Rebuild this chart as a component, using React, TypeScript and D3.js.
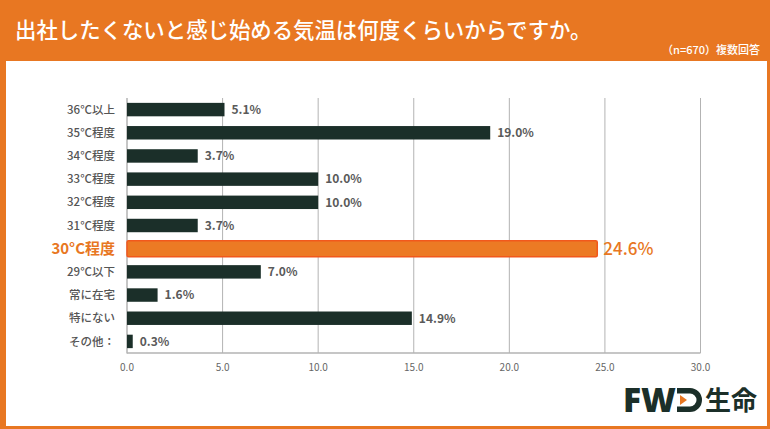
import React, { useEffect } from "react";
import * as d3 from "d3";

// survey answers (n=670), percent
const categories = [
  "36°C以上",
  "35°C程度",
  "34°C程度",
  "33°C程度",
  "32°C程度",
  "31°C程度",
  "30°C程度",
  "29°C以下",
  "常に在宅",
  "特にない",
  "その他：",
];
const values = [5.1, 19.0, 3.7, 10.0, 10.0, 3.7, 24.6, 7.0, 1.6, 14.9, 0.3];
const highlight = "30°C程度";
const xTicks = [0, 5, 10, 15, 20, 25, 30];

const title = "出社したくないと感じ始める気温は何度くらいからですか。";
const subtitle = "（n=670）複数回答";

const W = 770;
const H = 429;
const ORANGE = "#e87722";
const DARK = "#1b2f29";
const GREY = "#555";
const FONT = "'Noto Sans CJK JP', 'Noto Sans', sans-serif";

const App: React.FC = () => {
  useEffect(() => {
    document.body.style.margin = "0";
  }, []);

  const x = d3.scaleLinear().domain([0, 30]).range([127, 700.5]);
  const y = d3
    .scaleBand<string>()
    .domain(categories)
    .range([98, 353])
    .paddingInner(0.42)
    .paddingOuter(0.21);

  const bw = y.bandwidth();

  return (
    <svg width={W} height={H} style={{ display: "block", fontFamily: FONT }}>
      {/* header + framed panel */}
      <rect x={0} y={0} width={W} height={H} fill={ORANGE} />
      <rect x={6} y={61} width={761} height={365} fill="#fff" />
      <text x={15} y={37.5} fill="#fff" fontSize={21.4} fontWeight={500}>
        {title}
      </text>
      <text x={760} y={54} fill="#fff" fontSize={11} fontWeight={500} textAnchor="end">
        {subtitle}
      </text>

      {/* grid */}
      {xTicks.slice(1).map((t) => (
        <line key={t} x1={x(t)} x2={x(t)} y1={98} y2={353} stroke="#b3b3b3" strokeWidth={1} />
      ))}
      <line x1={x(0)} x2={x(0)} y1={98} y2={353.5} stroke="#b3b3b3" strokeWidth={1.5} />
      <line x1={x(0)} x2={x(30)} y1={353} y2={353} stroke="#b3b3b3" strokeWidth={1.5} />
      {xTicks.map((t) => (
        <text key={t} x={x(t)} y={371} fontSize={10} fill="#666" textAnchor="middle">
          {d3.format(".1f")(t)}
        </text>
      ))}

      {/* bars */}
      {categories.map((c, i) => {
        const v = values[i];
        const cy = (y(c) ?? 0) + bw / 2;
        const hl = c === highlight;
        const h = hl ? 16 : bw;
        return (
          <g key={c}>
            <rect
              x={x(0)}
              y={cy - h / 2}
              width={x(v) - x(0)}
              height={h}
              fill={hl ? "#ec7a24" : DARK}
              stroke={hl ? "#f2581c" : "none"}
              strokeWidth={hl ? 1.5 : 0}
              rx={hl ? 1.5 : 0}
            />
            <text
              x={115}
              y={cy}
              dy="0.36em"
              textAnchor="end"
              fontSize={hl ? 15 : 11.5}
              fontWeight={hl ? 700 : 500}
              fill={hl ? ORANGE : GREY}
            >
              {c}
            </text>
            <text
              x={x(v) + (hl ? 6 : 7)}
              y={cy}
              dy="0.36em"
              fontSize={hl ? 17 : 12}
              fontWeight={hl ? 500 : 600}
              fill={hl ? ORANGE : "#5a5a5a"}
            >
              {v.toFixed(1)}%
            </text>
          </g>
        );
      })}

      {/* logo */}
      <text
        x={623}
        y={412}
        fontSize={33}
        fontWeight={900}
        fill={DARK}
        textLength={53}
        lengthAdjust="spacingAndGlyphs"
        fontFamily="'Noto Sans', sans-serif"
      >
        FW
      </text>
      <path
        d="M677,390.75 H690 A9.25,9.25 0 0 1 690,409.25 H677"
        fill="none"
        stroke={DARK}
        strokeWidth={5.5}
      />
      <path d="M680,395 L687,400 L680,405 Z" fill={ORANGE} />
      <text x={705} y={410} fontSize={26} fontWeight={700} fill={DARK} textLength={52} lengthAdjust="spacingAndGlyphs">
        生命
      </text>
    </svg>
  );
};

export default App;
